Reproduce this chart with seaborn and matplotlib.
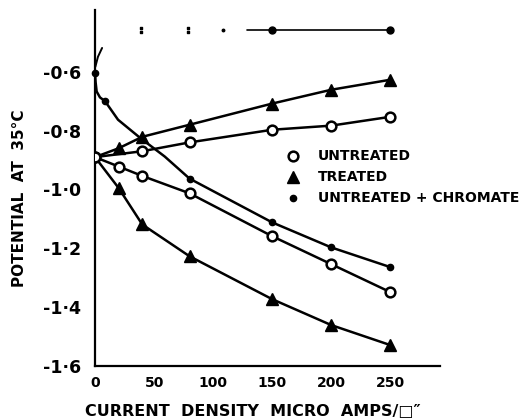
import numpy as np
import pandas as pd
import seaborn as sns
import matplotlib
matplotlib.use("Agg")
import matplotlib.pyplot as plt
from matplotlib.lines import Line2D

# ---- data ----
untreated_up_x = [0, 40, 80, 150, 200, 250]
untreated_up_y = [-0.89, -0.870, -0.840, -0.797, -0.783, -0.753]
untreated_dn_x = [0, 20, 40, 80, 150, 200, 250]
untreated_dn_y = [-0.89, -0.922, -0.954, -1.013, -1.159, -1.254, -1.349]
treated_up_x = [0, 20, 40, 80, 150, 200, 250]
treated_up_y = [-0.89, -0.860, -0.821, -0.780, -0.708, -0.661, -0.627]
treated_dn_x = [0, 20, 40, 80, 150, 200, 250]
treated_dn_y = [-0.89, -0.995, -1.119, -1.227, -1.373, -1.461, -1.529]
chromate_x = [0, 8.5, 80, 150, 200, 250]
chromate_y = [-0.603, -0.700, -0.963, -1.112, -1.197, -1.264]
chromate_trace_x = [0, 0.5, 1.4, 4.2, 8.5, 19.5, 38, 59, 80, 150, 200, 250]
chromate_trace_y = [-0.603, -0.635, -0.667, -0.687, -0.700, -0.763, -0.824, -0.888, -0.963, -1.112, -1.197, -1.264]
arc_x = [0.3, 2.5, 6]
arc_y = [-0.583, -0.549, -0.519]
top_line_x = [129, 150, 250]
top_line_y = [-0.457, -0.457, -0.457]
top_marks_x = [39, 79]
top_marks_y = [-0.457, -0.457]
top_dot_x = [108]
top_dot_y = [-0.457]

xticks = [0, 50, 100, 150, 200, 250]
yticks = [-0.6, -0.8, -1.0, -1.2, -1.4, -1.6]
ytick_labels = ["-0·6", "-0·8", "-1·0", "-1·2", "-1·4", "-1·6"]
legend_labels = ["UNTREATED", "TREATED", "UNTREATED + CHROMATE"]

sns.set_style("white")
plt.rcParams['font.family'] = ['DejaVu Sans']
plt.rcParams['font.weight'] = 'bold'
plt.rcParams['text.color'] = 'black'
plt.rcParams['xtick.color'] = 'black'
plt.rcParams['ytick.color'] = 'black'

fig = plt.figure(figsize=(5.32, 4.2), dpi=100)
ax = fig.add_axes([95/532, 1-366/420, (440-95)/532, (366-10)/420])

LW = 1.8
def line(x, y, lw=LW):
    sns.lineplot(x=x, y=y, ax=ax, color='black', lw=lw, sort=False,
                 estimator=None, legend=False)

line(untreated_up_x, untreated_up_y)
line(untreated_dn_x, untreated_dn_y)
line(treated_up_x, treated_up_y)
line(treated_dn_x, treated_dn_y)
line(chromate_trace_x, chromate_trace_y)
line(arc_x, arc_y, 1.4)
line(top_line_x, top_line_y, 1.2)

# markers
ax.plot(untreated_up_x, untreated_up_y, ls='none', marker='o', ms=7, mfc='white', mec='black', mew=1.8, zorder=5)
ax.plot(untreated_dn_x, untreated_dn_y, ls='none', marker='o', ms=7, mfc='white', mec='black', mew=1.8, zorder=5)
ax.plot(treated_up_x[1:], treated_up_y[1:], ls='none', marker='^', ms=8, color='black', zorder=5)
ax.plot(treated_dn_x[1:], treated_dn_y[1:], ls='none', marker='^', ms=8, color='black', zorder=5)
ax.plot(chromate_x, chromate_y, ls='none', marker='o', ms=4.5, color='black', zorder=5, clip_on=False)
ax.plot(top_line_x[1:], top_line_y[1:], ls='none', marker='o', ms=5, color='black', zorder=5)
ax.plot(top_marks_x, top_marks_y, ls='none', marker='$:$', ms=5, color='black', zorder=5)
ax.plot(top_dot_x, top_dot_y, ls='none', marker='o', ms=1.8, color='black', zorder=5)

ax.set_xlim(0, 292)
ax.set_ylim(-1.6, -0.39)
ax.set_xticks(xticks)
ax.set_xticklabels([str(t) for t in xticks], fontsize=10, fontweight='bold')
ax.set_yticks(yticks)
ax.set_yticklabels(ytick_labels, fontsize=12.5, fontweight='bold')
ax.tick_params(axis='x', direction='in', length=4, width=1.2, pad=7)
ax.tick_params(axis='y', direction='in', length=4, width=1.2, pad=10)
for s in ['top', 'right']:
    ax.spines[s].set_visible(False)
for s in ['left', 'bottom']:
    ax.spines[s].set_linewidth(1.6)
    ax.spines[s].set_color('black')

fig.text(20/532, 1-198/420, "POTENTIAL  AT  35°C", rotation=90, ha='center', va='center',
         fontsize=11, fontweight='bold')
fig.text(253/532, 1-411/420, "CURRENT  DENSITY  MICRO  AMPS/□″", ha='center', va='center',
         fontsize=11.5, fontweight='bold')

# legend
rows_y = [156, 177, 198]
styles = [dict(marker='o', ms=7, mfc='white', mec='black', mew=1.8),
          dict(marker='^', ms=8, color='black'),
          dict(marker='o', ms=4.5, color='black')]
for ry, lab, st in zip(rows_y, legend_labels, styles):
    fig.add_artist(Line2D([293/532], [1-ry/420], transform=fig.transFigure, ls='none', **st))
    fig.text(318/532, 1-ry/420, lab, ha='left', va='center', fontsize=10, fontweight='bold')

fig.savefig("out.png", dpi=100)
